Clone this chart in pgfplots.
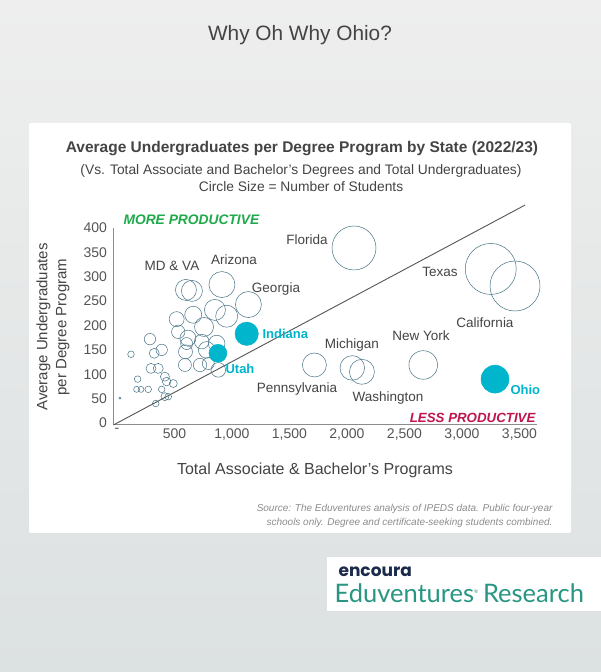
\documentclass[border=0pt]{standalone}
\usepackage{fontspec}
\setmainfont{Liberation Sans}
\newfontfamily\logofont{Poppins}
\newfontfamily\brandfont{Lato}
\usepackage{pgfplots}
\pgfplotsset{compat=1.18}
\usepackage{pgfplotstable}

\definecolor{bgtop}{RGB}{238,238,238}
\definecolor{bgbot}{RGB}{220,225,225}
\definecolor{axisgray}{RGB}{140,140,140}
\definecolor{tickgray}{RGB}{85,85,85}
\definecolor{textgray}{RGB}{68,68,68}
\definecolor{bubbleline}{RGB}{70,115,135}
\definecolor{teal}{RGB}{0,181,204}
\definecolor{moregreen}{RGB}{30,170,75}
\definecolor{lessred}{RGB}{190,20,80}
\definecolor{navy}{RGB}{27,42,74}
\definecolor{brandteal}{RGB}{40,150,130}

% states: x = total programs, y = avg undergrads per program, r = circle radius (pt)
\pgfplotstableread{
x y r
2061 359 22
3250 316 25.5
3461 281 25
2663 119 14.3
2046 113 12.3
2130 105 12.5
1717 119 12
913 284 13
1143 243 13
600 273 10.5
652 271 10.5
852 232 10.5
954 219 11
519 213 7.5
663 222 8.5
757 197 9.5
533 187 6.7
617 174 8
606 163 6
596 146 7
591 119 6.5
737 167 7.3
780 150 8.3
867 163 8.3
722 119 6.7
794 122 6
881 109 7.3
287 172 5.7
389 150 5.7
324 143 5
122 141 3.3
296 112 5
359 112 5
417 95 4.5
432 85 4.3
490 81 4
180 90 3.3
171 69 3
209 69 3
272 69 3.3
389 69 3.3
417 54 4
446 54 3.3
337 40 3.3
26 51 1
}\states

\pgfplotstableread{
x y r
3287 90 14
1128 183 11.7
878 143 9
}\highlight

\begin{document}
\begin{tikzpicture}[x=1pt,y=1pt]
\useasboundingbox (0,0) rectangle (601,672);
\shade[top color=bgtop, bottom color=bgbot] (0,0) rectangle (601,672);
% card
\fill[white, rounded corners=2pt] (29,{672-533}) rectangle (571,{672-123});
% logo box
\fill[white] (327,{672-611}) rectangle (601,{672-557});

\begin{axis}[
  at={(113.5pt,247.05pt)}, anchor=south west,
  scale only axis, width=423.25pt, height=196.95pt,
  xmin=-30, xmax=3650, ymin=-4, ymax=400,
  axis x line*=bottom, axis y line*=left,
  axis line style={draw=axisgray, line width=0.9pt},
  xtick={0,500,...,3500},
  xticklabels={-,500,{1,000},{1,500},{2,000},{2,500},{3,000},{3,500}},
  ytick={0,50,...,400},
  major tick length=0pt,
  tick label style={font=\fontsize{14}{16}\selectfont, text=tickgray},
  yticklabel style={xshift=-3pt},
  /pgf/number format/assume math mode=true,
  clip=false,
]
\addplot[draw=tickgray, line width=0.9pt] coordinates {(-30,-4) (3548,447)};
\addplot[scatter, only marks, mark=o, line width=0.5pt,
  scatter/use mapped color={draw=bubbleline},
  visualization depends on={\thisrow{r}\as\rad},
  scatter/@pre marker code/.append style={/tikz/mark size=\rad}]
  table[x=x,y=y] {\states};
\addplot[scatter, only marks, mark=*,
  scatter/use mapped color={draw=teal, fill=teal},
  visualization depends on={\thisrow{r}\as\rad},
  scatter/@pre marker code/.append style={/tikz/mark size=\rad}]
  table[x=x,y=y] {\highlight};
\end{axis}

\begin{scope}[shift={(0,672)}, y=-1pt]
\node[text=textgray, font=\fontsize{20.8}{24}\selectfont] at (300,35) {Why Oh Why Ohio?};
\node[text=textgray, font=\bfseries\fontsize{15.5}{18}\selectfont] at (302,149)
  {Average Undergraduates per Degree Program by State (2022/23)};
\node[text=textgray, font=\fontsize{13.8}{16.5}\selectfont, align=center] at (301,178)
  {(Vs. Total Associate and Bachelor's Degrees and Total Undergraduates)\\Circle Size = Number of Students};
\node[rotate=90, text=textgray, font=\fontsize{15}{19}\selectfont, align=center] at (53,327)
  {Average Undergraduates\\per Degree Program};
\node[text=textgray, font=\fontsize{16}{19}\selectfont] at (315,470)
  {Total Associate \& Bachelor's Programs};
\node[anchor=west, text=moregreen, font=\bfseries\itshape\fontsize{13.8}{15}\selectfont] at (120,220) {MORE PRODUCTIVE};
\node[anchor=east, text=lessred, font=\bfseries\itshape\fontsize{13.3}{15}\selectfont] at (539,418) {LESS PRODUCTIVE};
% state labels
\begin{scope}[every node/.style={text=textgray, font=\fontsize{13.5}{16}\selectfont}]
\node at (307,240) {Florida};
\node at (234,260) {Arizona};
\node at (172,266) {MD \& VA};
\node at (276,289) {Georgia};
\node at (297,389) {Pennsylvania};
\node at (352,345) {Michigan};
\node at (388,398) {Washington};
\node at (421,336) {New York};
\node at (440,272) {Texas};
\node at (485,323) {California};
\end{scope}
\begin{scope}[every node/.style={anchor=west, text=teal, font=\bfseries\fontsize{13}{16}\selectfont}]
\node at (259,334) {Indiana};
\node at (222,369) {Utah};
\node at (507,390) {Ohio};
\end{scope}
\node[anchor=east, text=axisgray, font=\itshape\fontsize{10}{13.5}\selectfont, align=right] at (556,516)
  {Source: The Eduventures analysis of IPEDS data. Public four-year\\schools only. Degree and certificate-seeking students combined.};
% logo
\node[anchor=west, text=navy, font=\logofont\bfseries\fontsize{17}{19}\selectfont] at (335,572) {encoura};
\node[anchor=west, text=brandteal, font=\brandfont\fontsize{25.5}{28}\selectfont] at (331,593) {Eduventures\textsuperscript{\tiny\textregistered}\,Research};
\end{scope}
\end{tikzpicture}
\end{document}
